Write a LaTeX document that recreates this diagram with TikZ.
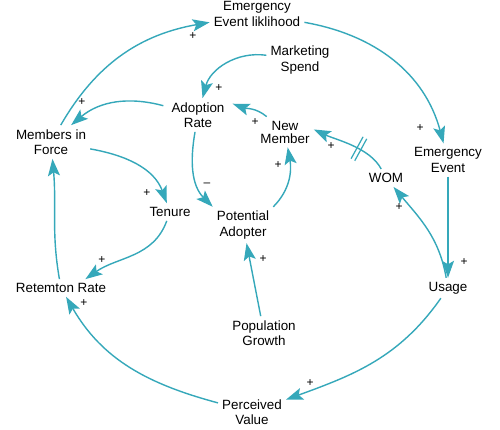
\documentclass[tikz,border=0pt]{standalone}
\usepackage{fontspec}
\setmainfont{Liberation Sans}
\usetikzlibrary{arrows.meta}
\definecolor{linkblue}{HTML}{35A8BA}
\newcommand{\delaybars}{\textcolor{linkblue}{\rule{1.2pt}{25pt}\hspace{3pt}\rule{1.2pt}{25pt}}}
\tikzset{var/.style={align=center,inner sep=4pt,
		font=\fontsize{13.4}{15.5}\selectfont},
	link/.style={draw=linkblue,line width=1.4pt,
		-{Stealth[length=17pt,width=12pt,inset=3.5pt]}},
	pol/.style={inner sep=0pt,font=\fontsize{12}{12}\selectfont},
	delaymark/.style={inner sep=0pt,anchor=center}}

\begin{document}
\begin{tikzpicture}
	[x=1pt,y=1pt]
	\useasboundingbox[fill=white] (0,0) rectangle (500,430);
	% variables
	\node [var] (eel) at (257,416) {Emergency\\Event liklihood};
	\node [var] (ms) at (300,370) {Marketing\\Spend};
	\node [var,inner xsep=8pt] (ar) at (198,315) {Adoption\\Rate};
	\node [var,font=\fontsize{13.4}{13}\selectfont] (nm) at (285,298) {New\\Member};
	\node [var] (mif) at (51,288) {Members in\\Force};
	\node [var] (ee) at (448,270) {Emergency\\Event};
	\node [var] (wom) at (386,252) {WOM};
	\node [var] (ten) at (170,218) {Tenure};
	\node [var] (pa) at (243,205) {Potential\\Adopter};
	\node [var] (rr) at (61,142) {Retemton Rate};
	\node [var] (use) at (448,142) {Usage};
	\node [var] (pg) at (264,97) {Population\\Growth};
	\node [var] (pv) at (252,18) {Perceived\\Value};
	% links
	\draw [link] (mif) to[out=60,in=190] (eel);
	\draw [link] (eel) to[out=-10,in=105] (ee);
	\draw [link] (ms) to[out=172,in=75] (ar);
	\draw [link] (ar) to[out=165,in=40] (mif);
	\draw [link] (nm) to[out=140,in=-20] (ar.18);
	\draw [link] (wom) to[out=118,in=-25,looseness=.8] node[delaymark,sloped,pos=.4] {\delaybars} (nm.5);
	\draw [link] (pa.north east) to[out=45,in=-80] (nm);
	\draw [link] (ar) to[out=-100,in=135] (pa.north west);
	\draw [link] (mif) to[out=-10,in=110] (ten);
	\draw [link] (ten) to[out=-110,in=35] (rr.20);
	\draw [link] (rr) to[out=100,in=-85] (mif);
	\draw [link] (pv) to[out=165,in=-60] (rr);
	\draw [link] (use) to[out=-125,in=20] (pv);
	\draw [link] (ee) -- (use);
	\draw [link] (use) to[out=100,in=-50] (wom);
	\draw [link] (pg) -- (pa);
	% polarities
	\node [pol] (s1) at (193,394) {+};
	\node [pol] (s2) at (420,302) {+};
	\node [pol] (s3) at (219,342) {+};
	\node [pol] (s4) at (82,328) {+};
	\node [pol] (s5) at (255,308) {+};
	\node [pol] (s6) at (331,284) {+};
	\node [pol] (s7) at (278,265) {+};
	\node [pol] (s8) at (207,245) {\textendash};
	\node [pol] (s9) at (147,237) {+};
	\node [pol] (s10) at (102,170) {+};
	\node [pol] (s11) at (84,127) {+};
	\node [pol] (s12) at (310,47) {+};
	\node [pol] (s13) at (464,168) {+};
	\node [pol] (s14) at (399,223) {+};
	\node [pol] (s15) at (263,171) {+};
\end{tikzpicture}
\end{document}
